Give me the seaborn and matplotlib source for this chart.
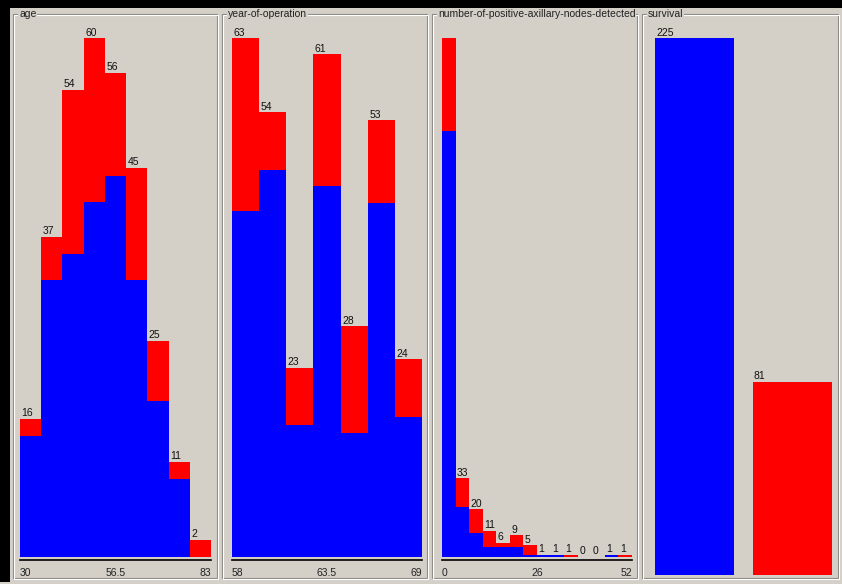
import numpy as np
import pandas as pd
import matplotlib
matplotlib.use("Agg")
import matplotlib.pyplot as plt
from matplotlib.patches import Rectangle
import seaborn as sns

# ---- data: per-bin counts, split by survival class ("1" survived, "2" died) ----
age_range = (30, 83)
age_survived = [14, 32, 35, 41, 44, 32, 18, 9, 0]
age_died = [2, 5, 19, 19, 12, 13, 7, 2, 2]
age_ticks = ["30", "56.5", "83"]

year_range = (58, 69)
year_survived = [42, 47, 16, 45, 15, 43, 17]
year_died = [21, 7, 7, 16, 13, 10, 7]
year_ticks = ["58", "63.5", "69"]

nodes_range = (0, 52)
nodes_survived = [178, 21, 10, 4, 4, 4, 1, 1, 1, 0, 0, 0, 1, 0]
nodes_died = [39, 12, 10, 7, 2, 5, 4, 0, 0, 1, 0, 0, 0, 1]
nodes_ticks = ["0", "26", "52"]

survival_classes = ["1", "2"]
survival_counts = [225, 81]

titles = ["age", "year-of-operation",
          "number-of-positive-axillary-nodes-detected", "survival"]

BG = "#d4d0c8"
BLUE = "#0000ff"
RED = "#ff0000"
W, H = 842, 584
PT = 72 / 100  # points per pixel at dpi 100

sns.set_style("white")
plt.rcParams["font.family"] = ["Liberation Sans", "DejaVu Sans"]
plt.rcParams["font.size"] = 7.5

fig = plt.figure(figsize=(W / 100, H / 100), dpi=100, facecolor=BG)


def rect_fig(x0, y_top, x1, y_bottom):
    return [x0 / W, 1 - y_bottom / H, (x1 - x0) / W, (y_bottom - y_top) / H]


def frame(x0, y0, x1, y1, title):
    # etched group-box border with its caption sitting on the top edge
    fig.add_artist(Rectangle((x0 / W, 1 - y1 / H), (x1 - x0) / W, (y1 - y0) / H,
                             transform=fig.transFigure, fill=False,
                             edgecolor="#8a8780", linewidth=0.8))
    fig.add_artist(Rectangle(((x0 + 1) / W, 1 - (y1 + 1) / H), (x1 - x0) / W,
                             (y1 - y0) / H, transform=fig.transFigure, fill=False,
                             edgecolor="#ffffff", linewidth=0.8))
    fig.text((x0 + 6) / W, 1 - y0 / H, title, ha="left", va="center",
             fontsize=7.5, color="#222222",
             bbox=dict(facecolor=BG, edgecolor="none", pad=0.6))


def stacked_hist(px_x0, px_x1, rng, survived, died, ticks):
    n = len(survived)
    edges = [float(e) for e in np.linspace(rng[0], rng[1], n + 1)]
    centers = [(edges[i] + edges[i + 1]) / 2 for i in range(n)]
    df = pd.DataFrame({
        "value": centers + centers,
        "count": list(survived) + list(died),
        "survival": ["1"] * n + ["2"] * n,
    })
    totals = np.array(survived) + np.array(died)
    ymax = totals.max()
    ax = fig.add_axes(rect_fig(px_x0, 38, px_x1, 557))
    sns.histplot(data=df, x="value", weights="count", hue="survival",
                 hue_order=["2", "1"], palette={"1": BLUE, "2": RED},
                 bins=edges, multiple="stack", element="bars",
                 linewidth=0, alpha=1, legend=False, ax=ax)
    ax.set_xlim(rng)
    ax.set_ylim(0, ymax)
    ax.patch.set_alpha(0)
    for s in ["left", "right", "top"]:
        ax.spines[s].set_visible(False)
    ax.spines["bottom"].set_position(("outward", 3 * PT))
    ax.spines["bottom"].set_linewidth(1.2)
    ax.spines["bottom"].set_color("#000000")
    ax.set_yticks([])
    ax.set_xlabel("")
    ax.set_ylabel("")
    ax.set_xticks([rng[0], (rng[0] + rng[1]) / 2, rng[1]])
    ax.set_xticklabels(ticks)
    ax.tick_params(axis="x", direction="out", length=5 * PT, width=1.0,
                   color="#000000", pad=2, labelsize=7.5, labelcolor="#222222")
    labels = ax.get_xticklabels()
    labels[0].set_ha("left")
    labels[-1].set_ha("right")
    bar_px = (px_x1 - px_x0) / n
    for i, t in enumerate(totals):
        text = str(int(t))
        if len(text) * 6 > bar_px:
            continue
        ax.annotate(text, (edges[i], t), xytext=(1.5 * PT, 0.5 * PT),
                    textcoords="offset points", ha="left", va="bottom",
                    fontsize=7.5, color="#111111", annotation_clip=False)
    return ax


# window chrome: dark edges on the top and left
fig.add_artist(Rectangle((0, 1 - 8 / H), 1, 8 / H, transform=fig.transFigure,
                         facecolor="#000000", edgecolor="none"))
fig.add_artist(Rectangle((0, 1 - 582 / H), 10 / W, 582 / H,
                         transform=fig.transFigure, facecolor="#000000",
                         edgecolor="none"))

frame(13, 14, 217, 578, titles[0])
frame(222, 14, 427, 578, titles[1])
frame(432, 14, 637, 578, titles[2])
frame(642, 14, 838, 578, titles[3])

stacked_hist(20, 211, age_range, age_survived, age_died, age_ticks)
stacked_hist(232, 422, year_range, year_survived, year_died, year_ticks)
stacked_hist(442, 632, nodes_range, nodes_survived, nodes_died, nodes_ticks)

# class distribution panel
bw = 79 / 98
axs = fig.add_axes(rect_fig(655, 38, 832, 575))
sdf = pd.DataFrame({"survival": survival_classes, "count": survival_counts})
sns.barplot(data=sdf, x="survival", y="count", hue="survival",
            palette={"1": BLUE, "2": RED}, width=bw, saturation=1,
            linewidth=0, legend=False, ax=axs)
axs.set_xlim(-bw / 2, 1 + bw / 2)
axs.set_ylim(0, max(survival_counts))
axs.axis("off")
for i, c in enumerate(survival_counts):
    axs.annotate(str(c), (i - bw / 2, c), xytext=(1 * PT, 0.5 * PT),
                 textcoords="offset points", ha="left", va="bottom",
                 fontsize=7.5, color="#111111", annotation_clip=False)

fig.savefig("out.png", dpi=100, facecolor=BG)
